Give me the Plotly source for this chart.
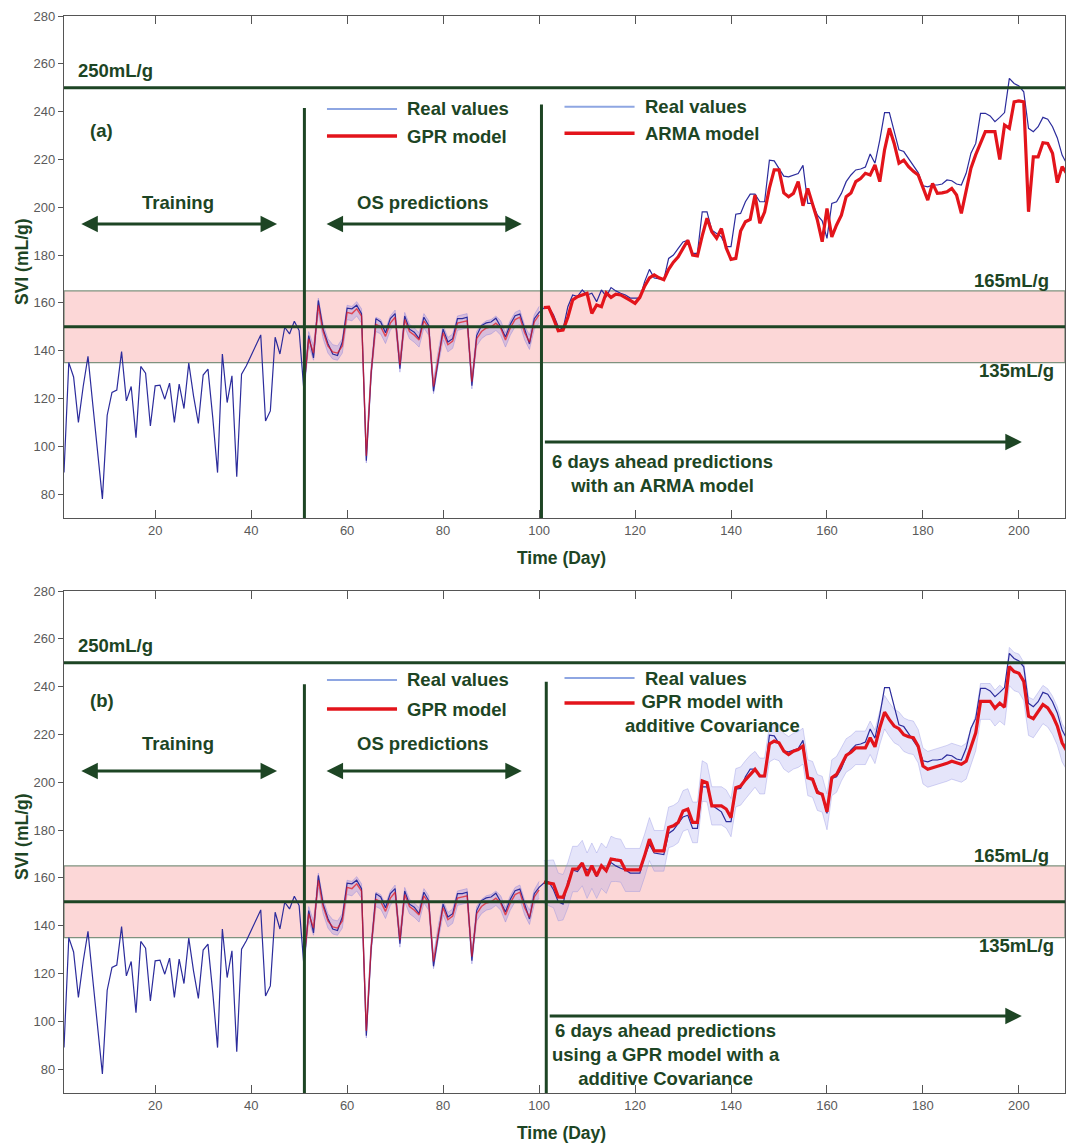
import plotly.graph_objects as go

# ---------------------------------------------------------------- data
days = list(range(1, 211))

# measured SVI (mL/g), days 1..210
real_svi = [
    89, 135, 129, 110, 125, 137.6, 117.5, 97.5, 78, 113,
    122.5, 123.5, 139.6, 119, 125, 103.6, 133.4, 130.6, 108.5, 125.3,
    125.6, 119.7, 126.4, 110, 126, 115.8, 134.8, 121, 109.6, 129.8,
    132.3, 112, 89, 138.6, 118.3, 129.5, 87.3, 130.2, 133.7, 138,
    142.5, 146.6, 110.6, 114.8, 145.6, 138.6, 149.8, 147, 152.3, 148.4,
    123.2, 146.3, 137, 161, 149, 143, 138.6, 138, 143.6, 157.8,
    157.5, 159, 155.5, 94, 130, 153.4, 152, 147.5, 153.4, 155.5,
    132.5, 154.5, 149, 147.7, 145, 154, 150.5, 123, 136, 149,
    143.6, 145, 153.4, 153.4, 154, 125.3, 146.3, 150.5, 151.6, 152,
    153.6, 150, 145.7, 151, 154.6, 155.3, 149, 142.8, 153.4, 156,
    157.8, 158.4, 155, 150, 149, 158.4, 163.3, 162.6, 165.4, 163.3,
    164, 160.5, 165.4, 162.6, 166.4, 165, 164, 163.3, 162, 161.9,
    162, 168.9, 174, 170.4, 170, 169.7, 178.6, 180, 182.8, 185.5,
    186.2, 180.7, 180.7, 198.1, 198.1, 190.4, 189, 187.6, 183.5, 183.5,
    197.1, 197.4, 202.3, 205.5, 205.5, 202.3, 202.3, 219.7, 219.4, 216.2,
    213, 212.7, 213.5, 214.1, 217.5, 201.6, 201.6, 196.7, 194.3, 187,
    201.6, 202.3, 205.8, 210.7, 213.5, 215.6, 216, 216.8, 222.3, 218.4,
    228.1, 239.6, 239.6, 231.6, 224, 223.3, 220.5, 217.5, 214.5, 209,
    208.5, 209.3, 209.3, 209.7, 211.4, 211.1, 209.7, 209.3, 214.2, 222.6,
    226.7, 239.3, 239.3, 238.2, 235.8, 237.6, 239.6, 253.9, 251.8, 250.7,
    248.3, 233, 231.6, 233.7, 237.6, 236.8, 233.7, 229, 221.8, 218,
]

# one-step-ahead GPR predictions, days 51..100
os_days = list(range(51, 101))
gpr_os = [
    125, 145, 139, 159, 148, 142, 139.5, 139, 142, 156,
    155.5, 157.5, 154.5, 96, 131, 151, 150, 146, 151.5, 154,
    134, 153, 148, 146.5, 144.5, 152.5, 149.5, 125, 137, 147.5,
    142.5, 144, 151.5, 152, 152.5, 127, 145, 148, 149.5, 150,
    151.5, 149.5, 144.5, 149.5, 153, 154, 147.5, 143.5, 152, 155,
]
gpr_os_sd = [
    3, 3, 3, 3, 3, 3, 3, 3, 3, 3,
    3, 3, 3, 3, 3, 3, 3, 3, 3, 3,
    3, 3, 3, 3, 3, 3, 3, 3, 3, 3,
    3, 3, 3, 3, 3, 3, 3, 3, 3, 3,
    3, 3, 3, 3, 3, 3, 3, 3, 3, 3.5,
]

# 6-days-ahead predictions, days 101..210
pred_days = list(range(101, 211))
arma_pred = [
    158, 158.2, 153.5, 148.3, 148.6, 154, 161.2, 162.6, 163.3, 164,
    155.6, 159.1, 158.4, 164.2, 162.3, 163.6, 163.3, 162, 161, 159.8,
    162.3, 167, 170.4, 171.7, 170.5, 169.7, 174, 177, 179.3, 182.8,
    186.2, 180, 179.6, 188, 195.4, 189.7, 187, 191.1, 183, 178.2,
    178.6, 190, 193.9, 194.9, 205.1, 193.3, 198, 208, 215.6, 215.6,
    206, 204.4, 205.8, 210.7, 200.6, 207.9, 201.6, 194.6, 185.6, 199.5,
    187.6, 192.6, 196.7, 204.4, 206, 210.7, 212, 214.2, 213.5, 217.7,
    210.7, 224, 233, 226.7, 218.4, 219.7, 217, 215, 213.5, 207.9,
    203, 210, 205.8, 206, 206.5, 207.9, 205.1, 197.4, 206.5, 216.3,
    222, 226.7, 231.6, 231.6, 231.6, 220, 234.4, 233, 244.1, 244.5,
    244.1, 198.1, 221.1, 221.1, 227, 226.7, 222.6, 210.3, 217, 214,
]
gpr_add_pred = [
    158.2, 158, 157.5, 152, 151.9, 157, 163.7, 163.7, 166.2, 160.9,
    165.1, 160.9, 165.1, 163, 167.9, 167.5, 167.2, 163.3, 163.3, 163.3,
    163.3, 169.3, 176.2, 171.3, 171.3, 171.3, 181.1, 181.8, 183.2, 188,
    188.8, 183.2, 183.2, 200.5, 199.8, 190.1, 190.1, 190.1, 188.8, 185.2,
    197.7, 198.4, 201, 203.3, 205.4, 202.6, 202.6, 216, 217.2, 216.5,
    213, 211.6, 213, 213.7, 215.1, 201.9, 201.2, 195.7, 195, 187.6,
    201.9, 203.3, 207.5, 211.2, 212.5, 214.4, 214.4, 214.4, 218.6, 214.8,
    222.8, 229.3, 226.2, 223.5, 222.4, 219.9, 219, 218.6, 215.1, 206.8,
    205.4, 206, 206.8, 207.5, 207.9, 208.8, 208.1, 207.5, 208.8, 214.4,
    220.7, 233.8, 233.8, 233.8, 231, 233.1, 231.4, 248.4, 246.3, 245.6,
    242.2, 227.6, 226.6, 229.7, 232.5, 231.1, 228, 223.5, 216.5, 213,
]
gpr_add_sd = [
    9, 9.5, 10, 10, 9.5, 9.5, 9.5, 9.5, 9.5, 9.5,
    9.5, 9.5, 9.5, 9.5, 9.5, 9, 9, 9, 9, 9,
    9, 9, 9, 8.5, 8.5, 8.5, 8.5, 8.5, 8.5, 8.5,
    8.5, 8.5, 8.5, 8.5, 8, 8, 8, 8, 8, 8,
    8, 8, 8, 8, 7.5, 7.5, 7.5, 7.5, 7.5, 7.5,
    7.5, 7.5, 7.5, 7.5, 7.5, 7.5, 7.5, 7.5, 7.5, 7.5,
    7.5, 7.5, 7, 7, 7, 7, 7, 7, 7, 7,
    7, 7, 7, 7, 7, 7, 7, 7, 7, 7.5,
    7.5, 7.5, 7.5, 7.5, 7.5, 7.5, 7.5, 7.5, 7.5, 7.5,
    7.5, 7.5, 7.5, 7.5, 7.5, 7.5, 7.5, 8, 8, 8,
    8, 8, 8, 8, 8, 8, 8, 8, 8, 8,
]

# thresholds (mL/g) and phase boundaries (day)
svi_limit = 250
band_low, band_mid, band_high = 135, 150, 165
train_end_day = 51.1
os_end_day = {"a": 100.5, "b": 101.5}

x_ticks = [20, 40, 60, 80, 100, 120, 140, 160, 180, 200]
y_ticks = [80, 100, 120, 140, 160, 180, 200, 220, 240, 260, 280]

# ---------------------------------------------------------------- style
GREEN = "#1d4524"
NAVY = "#2c2c9c"
RED = "#e3141b"
LEGEND_BLUE = "#8ea6e2"
FONT = "Liberation Sans, Arial, sans-serif"
TEXT_SIZE = 18.5
W, H = 1072, 1143
M_L, M_R, M_T, M_B = 64, 7, 16, 50

fig = go.Figure()


def band_traces(x, mean, sd, xa, ya, fill, edge):
    up = [m + s for m, s in zip(mean, sd)]
    lo = [m - s for m, s in zip(mean, sd)]
    fig.add_trace(go.Scatter(x=x, y=up, mode="lines", xaxis=xa, yaxis=ya,
                             line=dict(color=edge, width=0.8), hoverinfo="skip"))
    fig.add_trace(go.Scatter(x=x, y=lo, mode="lines", xaxis=xa, yaxis=ya,
                             line=dict(color=edge, width=0.8), fill="tonexty",
                             fillcolor=fill, hoverinfo="skip"))


for panel, xa, ya in (("a", "x", "y"), ("b", "x2", "y2")):
    band_traces(os_days, gpr_os, gpr_os_sd, xa, ya,
                "rgba(150,140,225,0.35)", "rgba(140,130,220,0.55)")
    if panel == "b":
        band_traces(pred_days, gpr_add_pred, gpr_add_sd, xa, ya,
                    "rgba(150,150,235,0.25)", "rgba(140,140,225,0.45)")
    fig.add_trace(go.Scatter(x=days, y=real_svi, mode="lines", xaxis=xa, yaxis=ya,
                             name="Real values", line=dict(color=NAVY, width=1.2)))
    fig.add_trace(go.Scatter(x=os_days, y=gpr_os, mode="lines", xaxis=xa, yaxis=ya,
                             name="GPR model", opacity=0.7,
                             line=dict(color=RED, width=1.4)))
    if panel == "a":
        fig.add_trace(go.Scatter(x=pred_days, y=arma_pred, mode="lines",
                                 xaxis=xa, yaxis=ya, name="ARMA model",
                                 line=dict(color=RED, width=3.2)))
    else:
        fig.add_trace(go.Scatter(x=pred_days, y=gpr_add_pred, mode="lines",
                                 xaxis=xa, yaxis=ya,
                                 name="GPR model with additive Covariance",
                                 line=dict(color=RED, width=3.2)))

# ---------------------------------------------------------------- axes
plot_h = H - M_T - M_B
dom_a = [1 - (518 - M_T) / plot_h, 1.0]
dom_b = [0.0, 1 - (591 - M_T) / plot_h]

tickfont = dict(family=FONT, size=13, color="#5a5a5a")
for xa, ya, dom in (("xaxis", "yaxis", dom_a), ("xaxis2", "yaxis2", dom_b)):
    anchor_y = "y" if ya == "yaxis" else "y2"
    anchor_x = "x" if xa == "xaxis" else "x2"
    fig.layout[xa] = dict(range=[1, 209.6], tickvals=x_ticks, ticks="inside",
                          ticklen=8, tickcolor="#555555", showline=True,
                          linecolor="#555555", linewidth=1.2, mirror="ticks",
                          showgrid=False, zeroline=False, tickfont=tickfont,
                          anchor=anchor_y)
    fig.layout[ya] = dict(domain=dom, range=[70, 280], tickvals=y_ticks,
                          ticks="outside", ticklen=5, tickcolor="#555555",
                          showline=True, linecolor="#555555", linewidth=1.2,
                          mirror=True, showgrid=False, zeroline=False,
                          tickfont=tickfont, anchor=anchor_x)

# inward ticks on the right-hand frame
fig.layout["yaxis3"] = dict(overlaying="y", side="right", anchor="x", range=[70, 280],
                            tickvals=y_ticks, ticks="inside", ticklen=11,
                            tickcolor="#555555", showticklabels=False,
                            showline=False, showgrid=False, zeroline=False)
fig.layout["yaxis4"] = dict(overlaying="y2", side="right", anchor="x2", range=[70, 280],
                            tickvals=y_ticks, ticks="inside", ticklen=11,
                            tickcolor="#555555", showticklabels=False,
                            showline=False, showgrid=False, zeroline=False)

# ---------------------------------------------------------------- shapes & text
shapes = []
annotations = []
txt = dict(family=FONT, size=TEXT_SIZE, color=GREEN)


def label(xr, yr, x, y, text, xanchor="center", align="center"):
    annotations.append(dict(xref=xr, yref=yr, x=x, y=y, text=f"<b>{text}</b>",
                            showarrow=False, xanchor=xanchor, yanchor="middle",
                            align=align, font=txt))


def arrow(xr, yr, x0, x1, y, both):
    annotations.append(dict(xref=xr, yref=yr, axref=xr, ayref=yr, x=x1, y=y,
                            ax=x0, ay=y, text="", showarrow=True, arrowhead=2,
                            arrowsize=1.1, arrowwidth=3, arrowcolor=GREEN,
                            arrowside="end+start" if both else "end",
                            standoff=0, startstandoff=0))


panel_text = {
    "a": dict(tag="(a)", tag_y=232.3, arrow_y=193, phase_y=201.8,
              leg_l=(241.1, 229.8), leg_r=(242.0, 231.0),
              right_model="ARMA model", right_model_y=231.0,
              ahead_arrow_y=101.8,
              ahead="6 days ahead predictions<br>with an ARMA model",
              ahead_y=88.7, ahead_x=125.8,
              vline_top=(241.5, 243.0)),
    "b": dict(tag="(b)", tag_y=234.4, arrow_y=204.7, phase_y=216.0,
              leg_l=(242.8, 230.6), leg_r=(243.6, 233.1),
              right_model="GPR model with<br>additive Covariance", right_model_y=228.8,
              ahead_arrow_y=102.2,
              ahead="6 days ahead predictions<br>using a GPR model with a<br>additive Covariance",
              ahead_y=86.2, ahead_x=126.5,
              vline_top=(241.0, 242.0)),
}

for panel, xr, yr in (("a", "x", "y"), ("b", "x2", "y2")):
    p = panel_text[panel]
    xd = f"{xr} domain"
    # acceptable SVI band and its mid line
    shapes.append(dict(type="rect", xref=xd, yref=yr, x0=0, x1=1, y0=band_low,
                       y1=band_high, fillcolor="#fcd7d7",
                       line=dict(color="#7f927f", width=1.3), layer="below"))
    shapes.append(dict(type="line", xref=xd, yref=yr, x0=0, x1=1, y0=band_mid,
                       y1=band_mid, line=dict(color=GREEN, width=3), layer="above"))
    shapes.append(dict(type="line", xref=xd, yref=yr, x0=0, x1=1, y0=svi_limit,
                       y1=svi_limit, line=dict(color=GREEN, width=3), layer="above"))
    # phase boundaries
    shapes.append(dict(type="line", xref=xr, yref=yr, x0=train_end_day,
                       x1=train_end_day, y0=70, y1=p["vline_top"][0],
                       line=dict(color=GREEN, width=3), layer="above"))
    shapes.append(dict(type="line", xref=xr, yref=yr, x0=os_end_day[panel],
                       x1=os_end_day[panel], y0=70, y1=p["vline_top"][1],
                       line=dict(color=GREEN, width=3), layer="above"))
    # legend samples
    bl, rl = p["leg_l"]
    br, rr = p["leg_r"]
    shapes += [
        dict(type="line", xref=xr, yref=yr, x0=55.8, x1=70.4, y0=bl, y1=bl,
             line=dict(color=LEGEND_BLUE, width=2)),
        dict(type="line", xref=xr, yref=yr, x0=55.8, x1=70.4, y0=rl, y1=rl,
             line=dict(color=RED, width=3.5)),
        dict(type="line", xref=xr, yref=yr, x0=105.3, x1=119.9, y0=br, y1=br,
             line=dict(color=LEGEND_BLUE, width=2)),
        dict(type="line", xref=xr, yref=yr, x0=105.3, x1=119.9, y0=rr, y1=rr,
             line=dict(color=RED, width=3.5)),
    ]
    label(xr, yr, 72.0, bl, "Real values", xanchor="left")
    label(xr, yr, 72.0, rl, "GPR model", xanchor="left")
    label(xr, yr, 121.6, br, "Real values", xanchor="left")
    if panel == "a":
        label(xr, yr, 121.6, p["right_model_y"], p["right_model"], xanchor="left")
    else:
        label(xr, yr, 136.2, p["right_model_y"], p["right_model"])

    label(xr, yr, 3.6, 257, f"{svi_limit}mL/g", xanchor="left")
    label(xr, yr, 6.0, p["tag_y"], p["tag"], xanchor="left")
    label(xr, yr, 24.8, p["phase_y"], "Training")
    label(xr, yr, 75.8, p["phase_y"], "OS predictions")
    arrow(xr, yr, 4.3, 45.4, p["arrow_y"], True)
    arrow(xr, yr, 55.4, 96.4, p["arrow_y"], True)
    label(xr, yr, 206.7, 169.5, f"{band_high}mL/g", xanchor="right")
    label(xr, yr, 207.8, 131.5, f"{band_low}mL/g", xanchor="right")
    arrow(xr, yr, os_end_day[panel] + 0.4, 200.6, p["ahead_arrow_y"], False)
    label(xr, yr, p["ahead_x"], p["ahead_y"], p["ahead"])

# axis titles
for y_px_time, y_px_svi in ((558, 262), (1133, 837)):
    annotations.append(dict(xref="paper", yref="paper", x=0.497,
                            y=(H - M_B - y_px_time) / plot_h, text="<b>Time (Day)</b>",
                            showarrow=False, xanchor="center", yanchor="middle",
                            font=dict(txt, size=17.5)))
    annotations.append(dict(xref="paper", yref="paper", x=(22 - M_L) / (W - M_L - M_R),
                            y=(H - M_B - y_px_svi) / plot_h, text="<b>SVI (mL/g)</b>",
                            textangle=-90, showarrow=False, xanchor="center",
                            yanchor="middle", font=dict(txt, size=17.5)))

fig.update_layout(
    width=W, height=H, autosize=False,
    margin=dict(l=M_L, r=M_R, t=M_T, b=M_B),
    paper_bgcolor="white", plot_bgcolor="white",
    showlegend=False, shapes=shapes, annotations=annotations,
    font=dict(family=FONT),
)

fig.write_html("out.html")
